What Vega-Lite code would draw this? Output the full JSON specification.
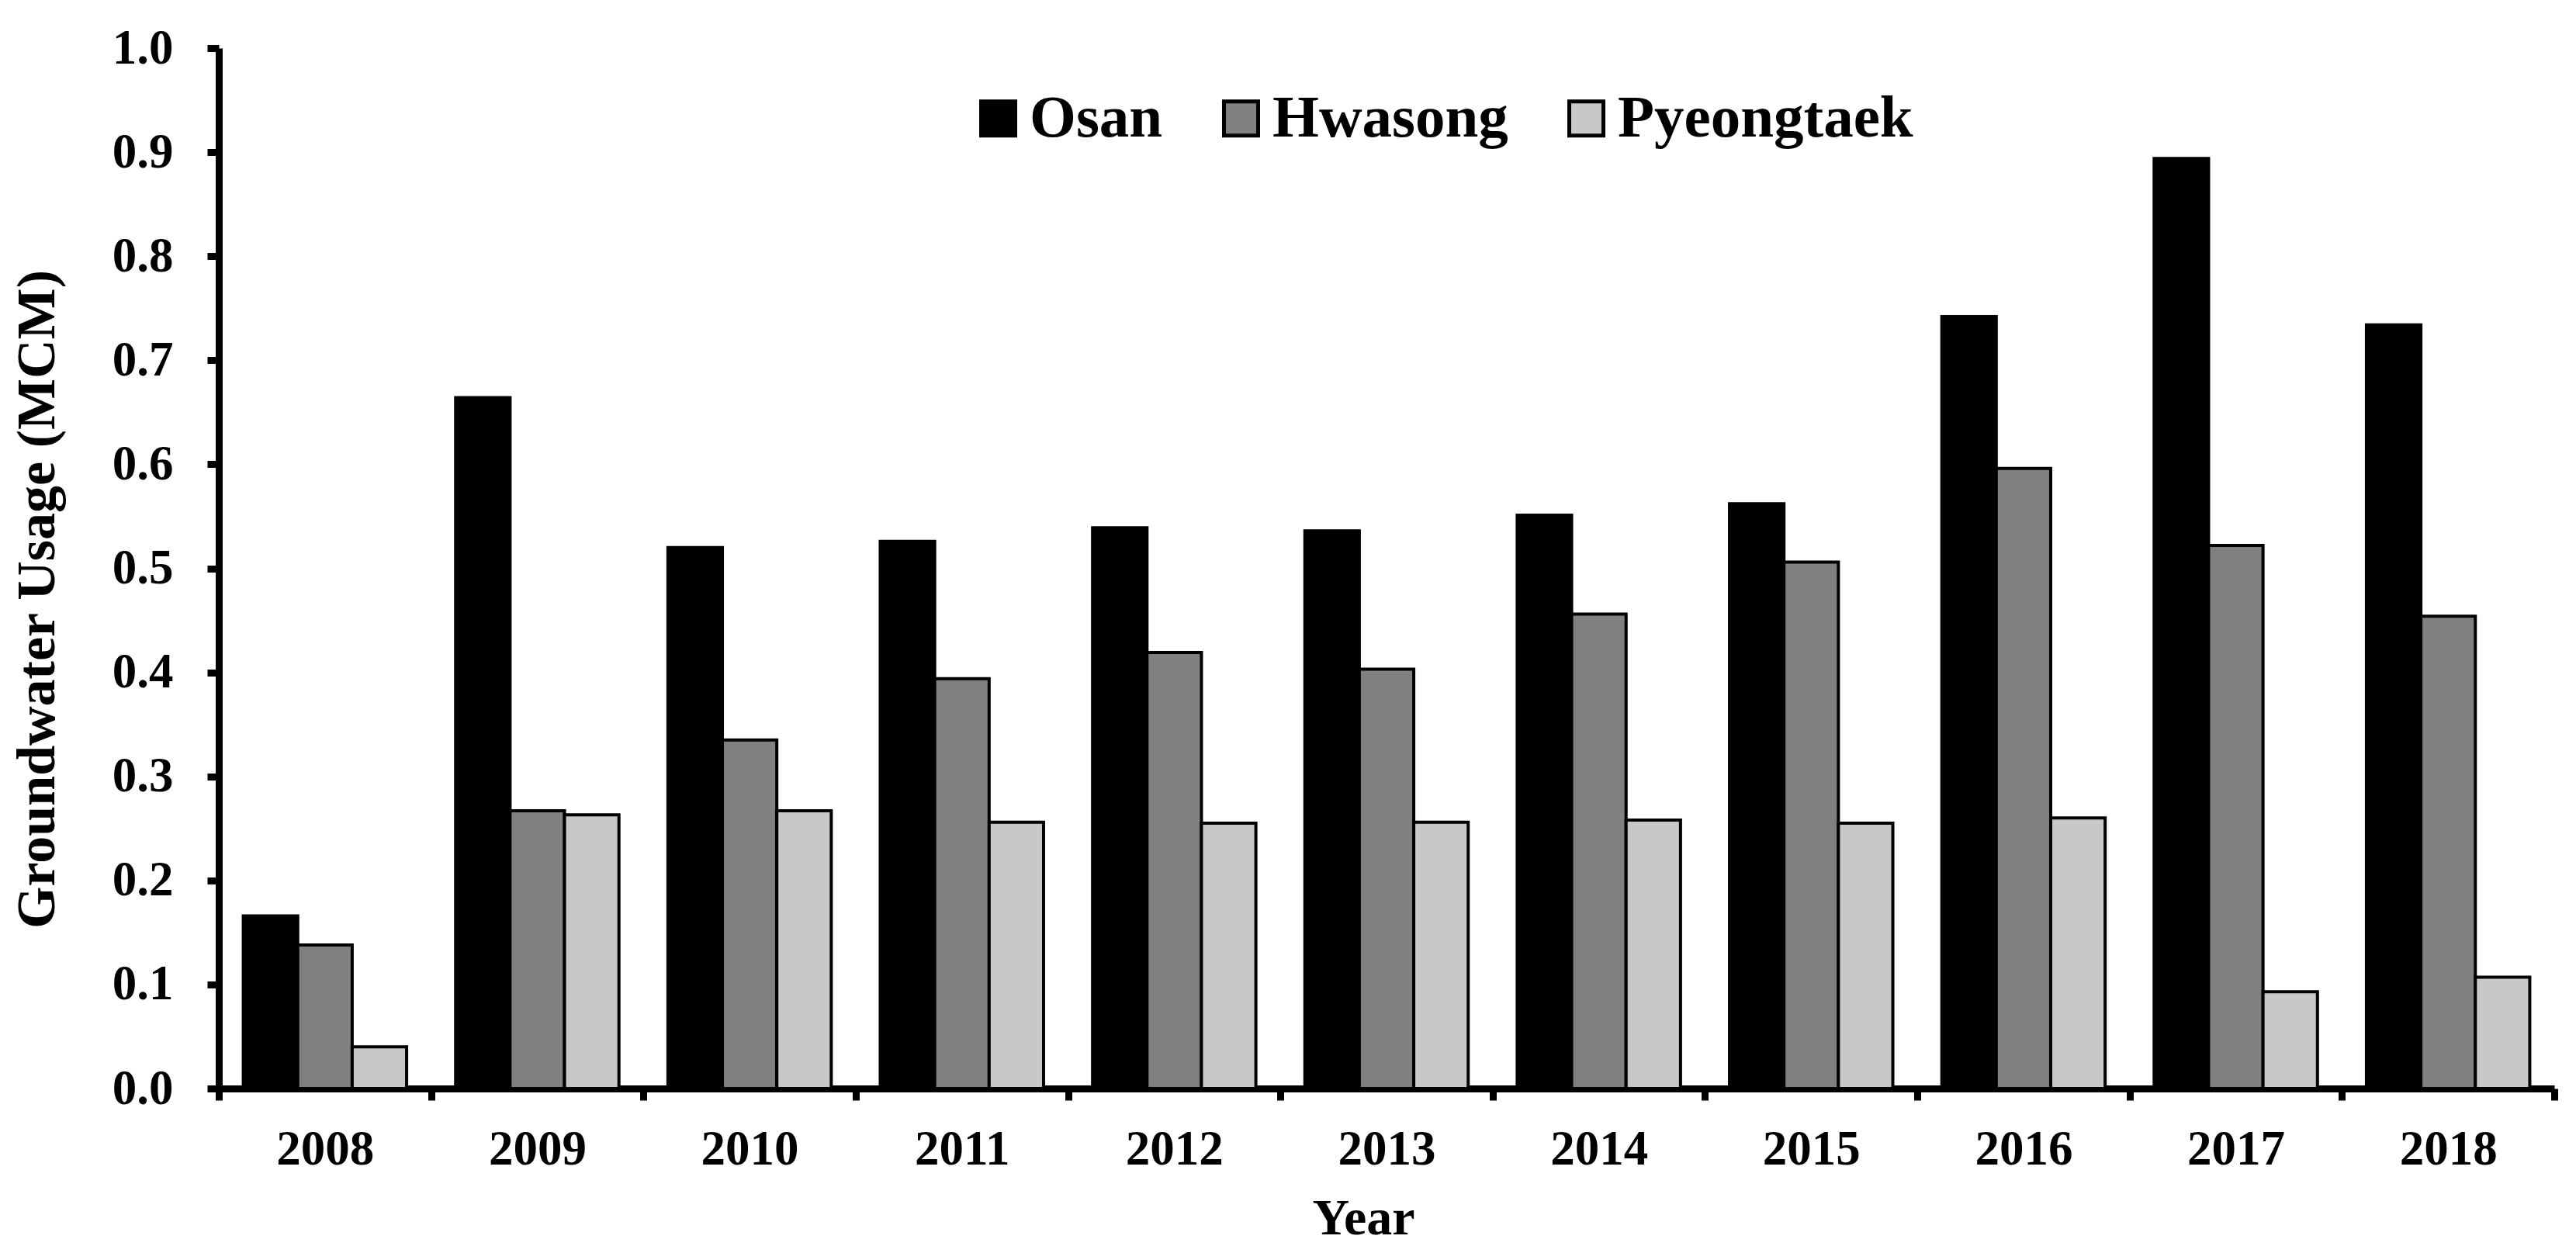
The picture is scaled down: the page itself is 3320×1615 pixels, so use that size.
{
  "$schema": "https://vega.github.io/schema/vega-lite/v6.json",
  "width": 3010,
  "height": 1341,
  "autosize": {"type": "none"},
  "padding": {"left": 282, "top": 62, "right": 28, "bottom": 212},
  "background": "white",
  "config": {
    "view": {"stroke": null},
    "font": "Liberation Serif",
    "axis": {"grid": false}
  },
  "data": {
    "values": [
      {"year": "2008", "city": "Osan", "usage": 0.166},
      {"year": "2008", "city": "Hwasong", "usage": 0.138},
      {"year": "2008", "city": "Pyeongtaek", "usage": 0.04},
      {"year": "2009", "city": "Osan", "usage": 0.664},
      {"year": "2009", "city": "Hwasong", "usage": 0.267},
      {"year": "2009", "city": "Pyeongtaek", "usage": 0.263},
      {"year": "2010", "city": "Osan", "usage": 0.52},
      {"year": "2010", "city": "Hwasong", "usage": 0.335},
      {"year": "2010", "city": "Pyeongtaek", "usage": 0.267},
      {"year": "2011", "city": "Osan", "usage": 0.526},
      {"year": "2011", "city": "Hwasong", "usage": 0.394},
      {"year": "2011", "city": "Pyeongtaek", "usage": 0.256},
      {"year": "2012", "city": "Osan", "usage": 0.539},
      {"year": "2012", "city": "Hwasong", "usage": 0.419},
      {"year": "2012", "city": "Pyeongtaek", "usage": 0.255},
      {"year": "2013", "city": "Osan", "usage": 0.536},
      {"year": "2013", "city": "Hwasong", "usage": 0.403},
      {"year": "2013", "city": "Pyeongtaek", "usage": 0.256},
      {"year": "2014", "city": "Osan", "usage": 0.551},
      {"year": "2014", "city": "Hwasong", "usage": 0.456},
      {"year": "2014", "city": "Pyeongtaek", "usage": 0.258},
      {"year": "2015", "city": "Osan", "usage": 0.562},
      {"year": "2015", "city": "Hwasong", "usage": 0.506},
      {"year": "2015", "city": "Pyeongtaek", "usage": 0.255},
      {"year": "2016", "city": "Osan", "usage": 0.742},
      {"year": "2016", "city": "Hwasong", "usage": 0.596},
      {"year": "2016", "city": "Pyeongtaek", "usage": 0.26},
      {"year": "2017", "city": "Osan", "usage": 0.894},
      {"year": "2017", "city": "Hwasong", "usage": 0.522},
      {"year": "2017", "city": "Pyeongtaek", "usage": 0.093},
      {"year": "2018", "city": "Osan", "usage": 0.734},
      {"year": "2018", "city": "Hwasong", "usage": 0.454},
      {"year": "2018", "city": "Pyeongtaek", "usage": 0.107}
    ]
  },
  "mark": {"type": "bar", "stroke": "black", "strokeWidth": 4},
  "encoding": {
    "x": {
      "field": "year",
      "type": "ordinal",
      "scale": {"paddingInner": 0, "paddingOuter": 0},
      "axis": {
        "title": "Year",
        "labelAngle": 0,
        "tickBand": "extent",
        "domainColor": "black",
        "domainWidth": 9,
        "tickColor": "black",
        "tickWidth": 9,
        "tickSize": 15,
        "labelFont": "Liberation Serif",
        "labelFontSize": 63,
        "labelFontWeight": "bold",
        "labelColor": "black",
        "labelPadding": 32,
        "titleFont": "Liberation Serif",
        "titleFontSize": 66,
        "titleFontWeight": "bold",
        "titleColor": "black",
        "titlePadding": 25,
        "titleX": 1475
      }
    },
    "xOffset": {
      "field": "city",
      "type": "nominal",
      "sort": ["Osan", "Hwasong", "Pyeongtaek"],
      "scale": {"paddingInner": 0, "paddingOuter": 0.45}
    },
    "y": {
      "field": "usage",
      "type": "quantitative",
      "scale": {"domain": [0, 1], "nice": false},
      "axis": {
        "title": "Groundwater Usage (MCM)",
        "values": [0, 0.1, 0.2, 0.3, 0.4, 0.5, 0.6, 0.7, 0.8, 0.9, 1.0],
        "format": ".1f",
        "domainColor": "black",
        "domainWidth": 9,
        "tickColor": "black",
        "tickWidth": 9,
        "tickSize": 15,
        "labelFont": "Liberation Serif",
        "labelFontSize": 63,
        "labelFontWeight": "bold",
        "labelColor": "black",
        "labelPadding": 44,
        "titleFont": "Liberation Serif",
        "titleFontSize": 70,
        "titleFontWeight": "bold",
        "titleColor": "black",
        "titlePadding": 60,
        "titleY": 710
      }
    },
    "fill": {
      "field": "city",
      "type": "nominal",
      "scale": {
        "domain": ["Osan", "Hwasong", "Pyeongtaek"],
        "range": ["#000000", "#808080", "#c8c8c8"]
      },
      "legend": {
        "title": null,
        "orient": "none",
        "direction": "horizontal",
        "legendX": 966,
        "legendY": 52,
        "padding": 0,
        "symbolType": "square",
        "symbolSize": 1936,
        "symbolStrokeColor": "black",
        "symbolStrokeWidth": 5,
        "symbolOpacity": 1,
        "labelFont": "Liberation Serif",
        "labelFontSize": 77,
        "labelFontWeight": "bold",
        "labelColor": "black",
        "labelOffset": 2,
        "labelLimit": 1000,
        "columnPadding": 62
      }
    }
  }
}
